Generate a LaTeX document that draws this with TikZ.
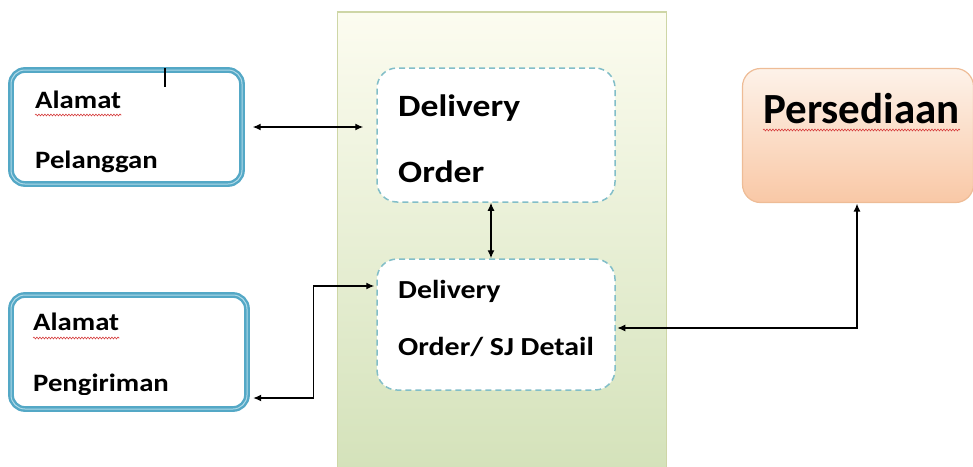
\documentclass[tikz,border=0pt]{standalone}
\usepackage{fontspec}
\setmainfont[FakeStretch=1.15]{Carlito}
\newfontfamily\plainfont{Carlito}
\usetikzlibrary{arrows.meta,decorations.pathmorphing}
\definecolor{boxteal}{RGB}{84,168,198}
\definecolor{boxtealin}{RGB}{176,218,232}
\definecolor{dashteal}{RGB}{130,190,200}
\definecolor{paneltop}{RGB}{252,252,240}
\definecolor{panelmid}{RGB}{245,248,237}
\definecolor{panelbot}{RGB}{212,226,186}
\definecolor{panelline}{RGB}{206,214,166}
\definecolor{peachtop}{RGB}{253,242,233}
\definecolor{peachbot}{RGB}{249,200,166}
\definecolor{peachline}{RGB}{238,188,150}
\definecolor{spellred}{RGB}{214,60,60}
\tikzset{
  tablebox/.style={draw=boxteal, double=boxtealin, double distance=1pt,
    line width=2.4pt, rounded corners=14pt, fill=white},
  procbox/.style={draw=dashteal, dash pattern=on 6pt off 4pt, line width=1.5pt,
    rounded corners=20pt, fill=white},
  lbl/.style={anchor=base west, inner sep=0pt},
  link/.style={black, line width=1.3pt, >={Latex[length=8pt,width=7pt]}},
  spell/.style={spellred, line width=0.6pt, decorate,
    decoration={snake, amplitude=0.9pt, segment length=3pt}}
}
\begin{document}
\begin{tikzpicture}[x=1pt,y=-1pt]
	\useasboundingbox (0,0) rectangle (973,466);
	% middle panel
	\node [draw=panelline, line width=1.2pt, top color=paneltop, middle color=panelmid,
	  bottom color=panelbot, minimum width=329pt, minimum height=458pt, inner sep=0pt]
	  (panel) at (502,241) {};
	% boxes
	\node [tablebox, minimum width=231pt, minimum height=114pt] (pelanggan) at (126.5,127) {};
	\node [tablebox, minimum width=236pt, minimum height=114pt] (pengiriman) at (129,352) {};
	\node [procbox, minimum width=238pt, minimum height=134pt] (order) at (496,135) {};
	\node [procbox, minimum width=238pt, minimum height=131pt] (detail) at (496,324.5) {};
	\node [draw=peachline, line width=1.2pt, rounded corners=18pt, top color=peachtop,
	  bottom color=peachbot, minimum width=231pt, minimum height=134pt, inner sep=0pt]
	  (persediaan) at (858,135.5) {};
	% texts
	\node [lbl, font=\bfseries\fontsize{25}{30}\selectfont] (alamatA) at (35,108) {Alamat};
	\node [lbl, font=\bfseries\fontsize{25}{30}\selectfont] (pelangganT) at (35,168) {Pelanggan};
	\node [lbl, font=\bfseries\fontsize{25}{30}\selectfont] (alamatB) at (33,330) {Alamat};
	\begin{scope}
	\clip (0,300) rectangle (260,394);
	\node [lbl, font=\bfseries\fontsize{25}{30}\selectfont] (pengirimanT) at (33,391) {Pengiriman};
	\end{scope}
	\node [lbl, font=\bfseries\fontsize{31}{36}\selectfont] (orderA) at (398,116) {Delivery};
	\node [lbl, font=\bfseries\fontsize{31}{36}\selectfont] (orderB) at (398,182) {Order};
	\node [lbl, font=\bfseries\fontsize{26}{30}\selectfont] (detailA) at (398,298) {Delivery};
	\node [lbl, font=\bfseries\fontsize{26}{30}\selectfont] (detailB) at (398,355) {Order/ SJ Detail};
	\node [lbl, font=\plainfont\bfseries\fontsize{43}{50}\selectfont] (persediaanT) at (763,123) {Persediaan};
	% spelling marks and cursor
	\draw [spell] ([yshift=-7pt]alamatA.base west) -- ([yshift=-7pt]alamatA.base east);
	\draw [spell] ([yshift=-8pt]alamatB.base west) -- ([yshift=-8pt]alamatB.base east);
	\draw [spell] ([yshift=-7pt]persediaanT.base west) -- ([yshift=-7pt]persediaanT.base east);
	\draw [black, line width=1.3pt] (165,68) -- (165,87);
	% connectors
	\draw [link, <->, shorten <=9.5pt, shorten >=13pt] (pelanggan.east) -- (pelanggan.east -| order.west);
	\draw [link, <->] ([xshift=-5pt]order.south) -- ([xshift=-5pt]detail.north);
	\draw [link, <->, shorten <=5pt, shorten >=2pt] ([yshift=-46pt]pengiriman.east) -- ++(65.5,0) |- ([yshift=38.5pt]detail.west);
	\draw [link, <->, shorten <=1.5pt, shorten >=0.5pt] ([yshift=-3.5pt]detail.east) -| ([xshift=-1pt]persediaan.south);
\end{tikzpicture}
\end{document}
